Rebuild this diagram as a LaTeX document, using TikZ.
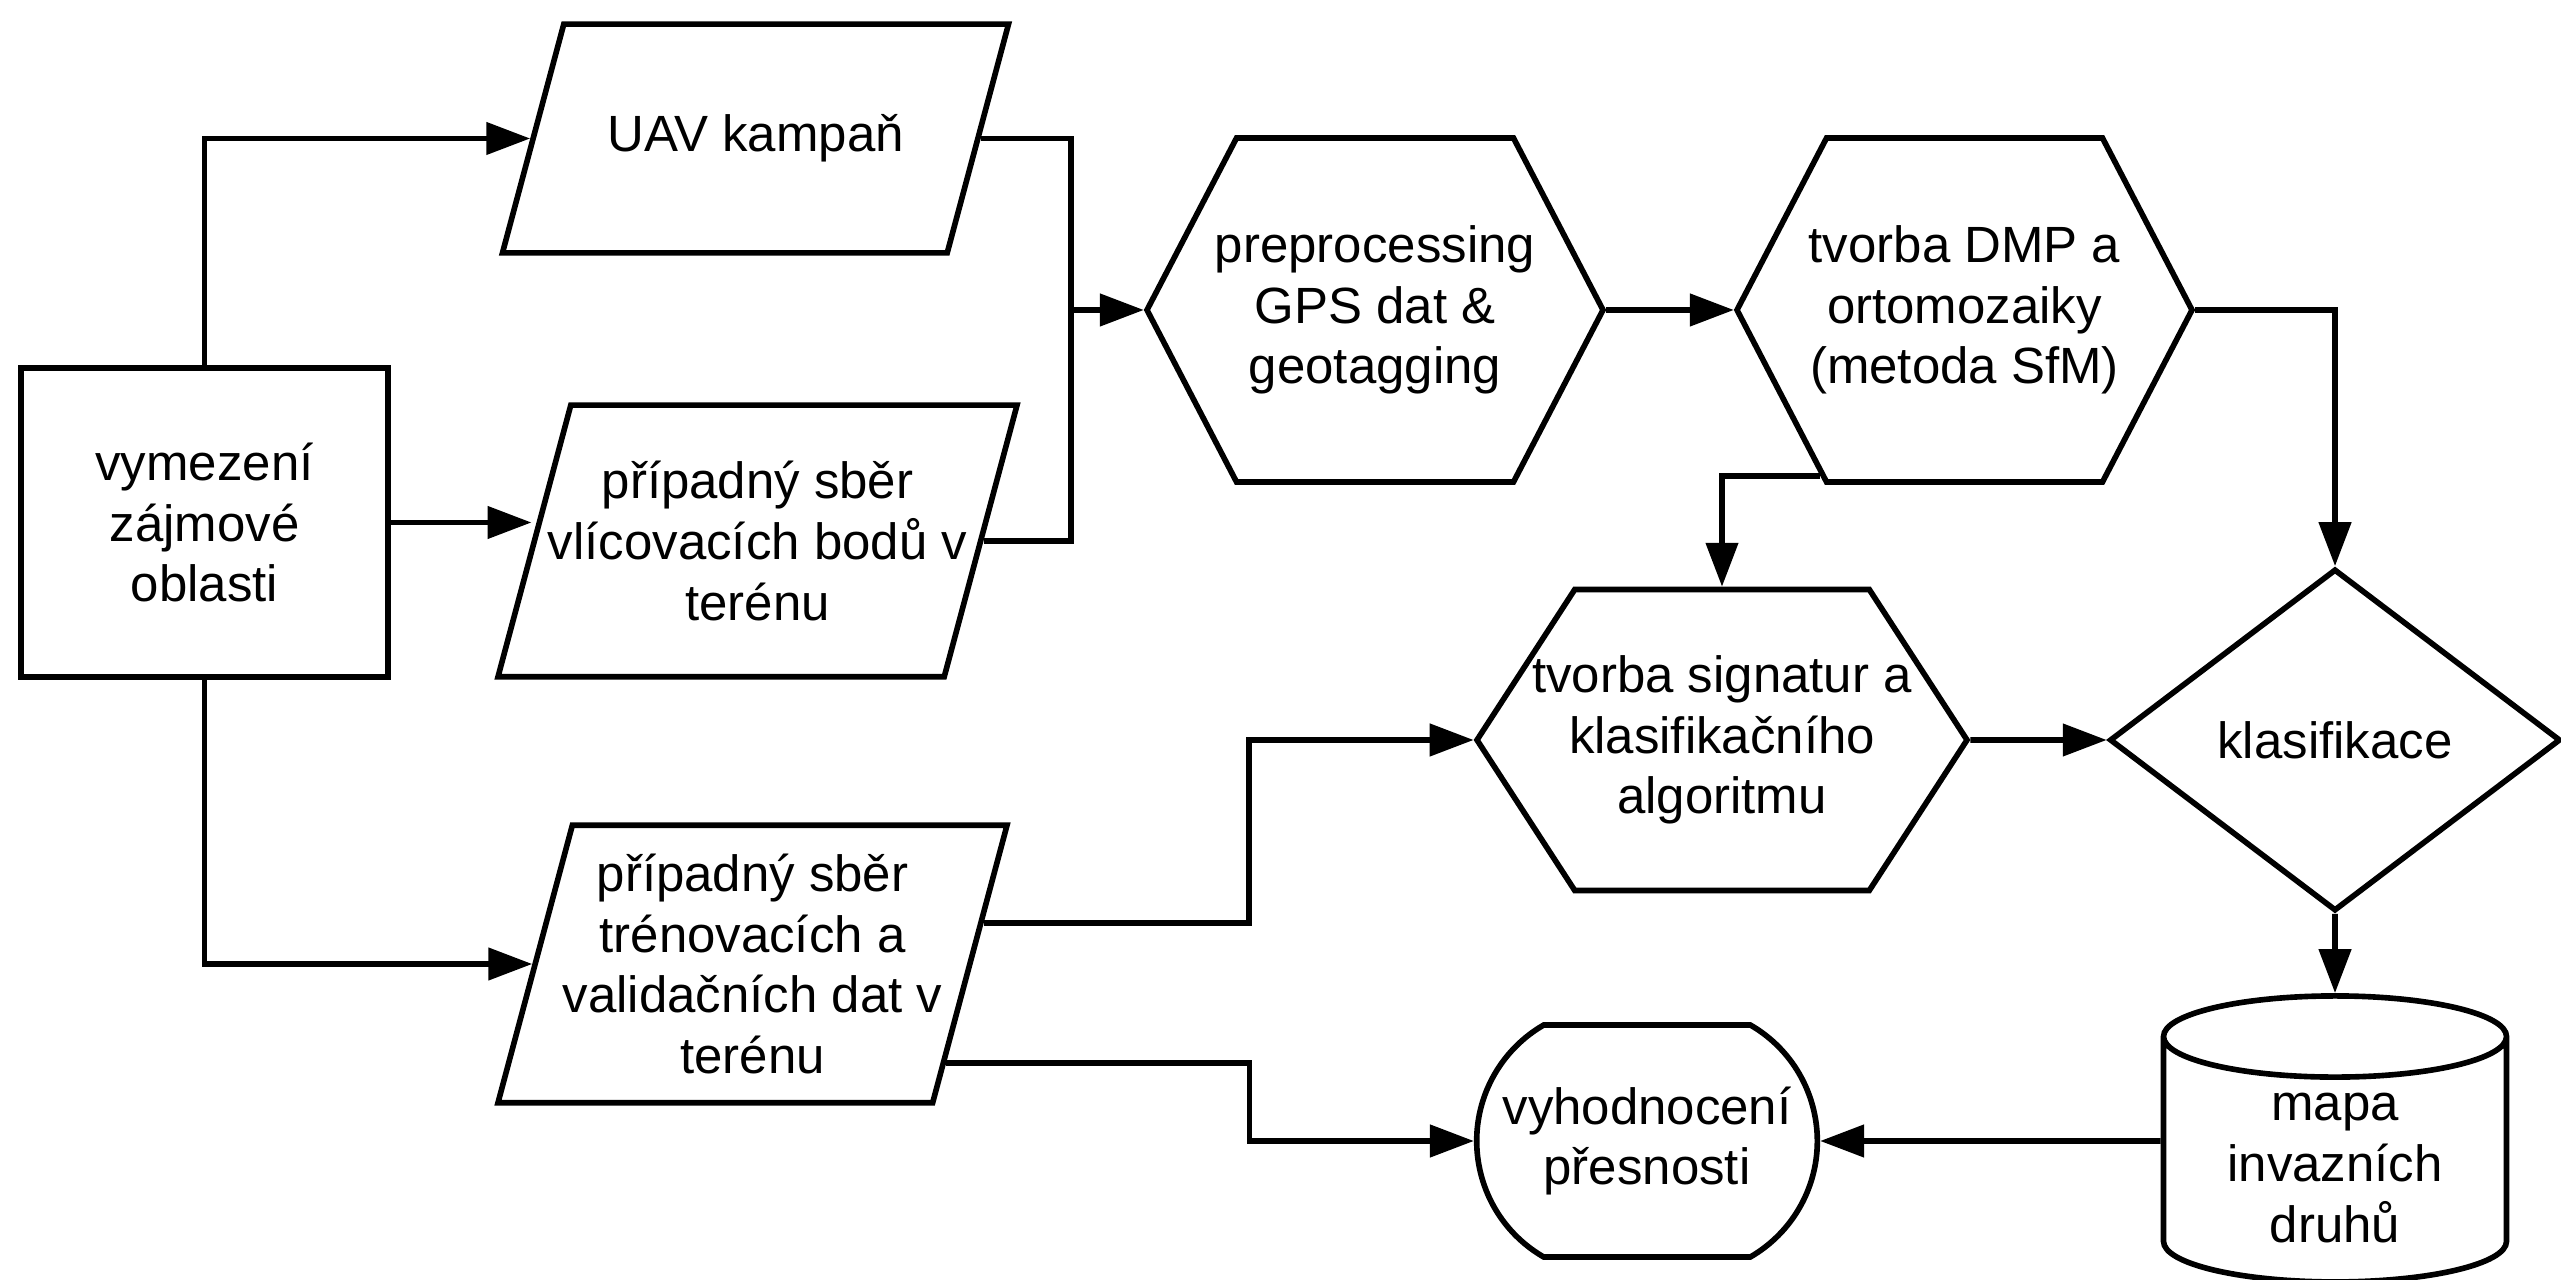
\documentclass[tikz,border=0pt]{standalone}
\usepackage{fontspec}
\setmainfont{Liberation Sans}
\usepackage{tikz}
\usetikzlibrary{calc,positioning,arrows.meta,shapes.geometric,shapes.misc,shapes.symbols}
\tikzset{
    zone/.style={
    rectangle,draw=black,line width=1.6pt,minimum width=3.67cm,minimum height=3.09cm,align=center
    },
    datain/.style={
    trapezium,trapezium left angle=75,trapezium right angle=105,trapezium stretches body=true,
    draw=black,line width=1.6pt,inner xsep=-0.5cm,align=center
    },
    proc/.style={
    signal,signal to=east and west,draw=black,line width=1.6pt,inner xsep=-1cm,inner ysep=0pt,align=center
    },
    decis/.style={
    diamond,draw=black,line width=1.6pt,inner sep=0pt,align=center
    },
    store/.style={
    cylinder,shape border rotate=90,aspect=0.34,draw=black,line width=1.6pt,align=center
    },
    endbox/.style={
    rounded rectangle,rounded rectangle arc length=120,draw=black,line width=1.6pt,align=center
    },
  line/.style={draw, line width=1.6pt, -{Triangle[length=12.5pt,width=9pt]}},
  wire/.style={draw, line width=1.6pt}
}

\begin{document}
\begin{tikzpicture}[every node/.style={font=\fontsize{14.5}{17.3}\selectfont}]
    \useasboundingbox (0,0) rectangle (25.61,-12.80);

    \node[zone] (area) at (2.045,-5.225) {vymezení\\zájmové\\oblasti};

    \node[datain,minimum width=5.06cm,inner ysep=0.905cm] (uav) at (7.555,-1.385) {UAV kampaň};
    \node[datain,minimum width=5.19cm,inner ysep=0.56cm] (vlic) at (7.575,-5.41) {případný sběr\\vlícovacích bodů v\\terénu};
    \node[datain,minimum width=5.09cm,inner ysep=0.285cm] (tren) at (7.525,-9.64) {případný sběr\\trénovacích a\\validačních dat v\\terénu};

    \node[proc,signal pointer angle=125,minimum width=4.56cm,minimum height=3.44cm] (prep) at (13.75,-3.10) {preprocessing\\GPS dat \&\\geotagging};
    \node[proc,signal pointer angle=125,minimum width=4.55cm,minimum height=3.44cm,right of=prep,node distance=5.895cm] (dmp) {tvorba DMP a\\ortomozaiky\\(metoda SfM)};

    \node[proc,signal pointer angle=114,minimum width=4.90cm,minimum height=3.01cm] (sign) at (17.22,-7.40) {tvorba signatur a\\klasifikačního\\algoritmu};
    \node[decis,minimum width=4.51cm,minimum height=3.42cm,right of=sign,node distance=6.13cm] (klas) {klasifikace};

    \node[store,minimum width=3.43cm,minimum height=2.86cm,below of=klas,node distance=4.28cm] (mapa) {mapa\\invazních\\druhů};
    \node[endbox,minimum width=3.64cm,minimum height=2.32cm] (acc) at (16.47,-11.41) {vyhodnocení\\přesnosti};

    \coordinate (merge) at ($(prep.west)+(-0.73,0)$);

    \begin{scope}[every path/.style=line]
      \path (area) |- (uav);
      \path (area.east) -- (area.east -| vlic.west);
      \path (area) |- (tren);
      \path (merge) -- (prep);
      \path (prep) -- (dmp);
      \path (dmp) -| (klas);
      \path (dmp.229) -| (sign);
      \path (sign) -- (klas);
      \path (klas) -- (mapa);
      \path (mapa.west |- acc.east) -- (acc);
      \path (tren.10) -- ++(2.65,0) |- (sign);
      \path (tren.-27) -- ++(3.03,0) |- (acc);
    \end{scope}

    \begin{scope}[every path/.style=wire]
      \path (uav) -| (merge);
      \path (vlic) -| (merge);
    \end{scope}

\end{tikzpicture}
\end{document}
